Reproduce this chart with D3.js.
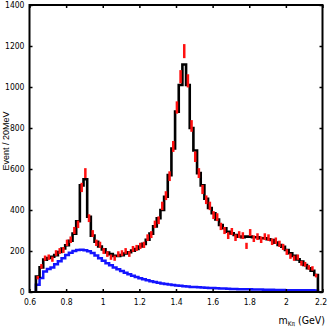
<!DOCTYPE html>
<html><head><meta charset="utf-8">
<script src="https://cdn.jsdelivr.net/npm/d3@7"></script>
<style>body{margin:0;background:#fff} svg{display:block}</style>
</head><body>
<svg id="c" width="327" height="327"></svg>
<script>
// histogram binning (GeV)
const binStart = 0.635, binWidth = 0.02;
// observed events per 20 MeV bin
const dataCounts = [70,125,165,170,160,190,200,205,240,255,300,330,510,580,360,285,240,230,200,185,
  170,165,185,190,200,185,210,215,225,230,265,280,330,350,420,470,565,710,900,1050,
  1175,1030,810,660,580,500,450,420,375,365,320,300,275,295,265,280,275,225,290,260,
  270,255,270,265,245,250,235,220,195,175,165,170,140,135,120,115,80];
// total fit
const fitCounts = [75,120,158,166,172,180,195,212,228,250,285,345,520,550,367,275,245,222,208,193,
  185,176,176,180,188,194,202,210,222,235,255,285,320,360,400,465,570,700,880,1010,
  1110,1010,800,690,580,520,455,410,384,354,327,311,294,286,278,270,267,270,270,267,
  267,262,262,257,254,241,229,221,205,189,176,159,148,132,116,104,83];
// background component
const bkgCounts = [35,68,100,112,120,135,150,165,180,192,200,205,206,204,199,190,178,165,152,140,
  130,120,111,102,94,86,79,73,67,62,57,53,49,45,42,39,36,34,32,30,
  28,27,25,24,23,22,21,20,19,18,17,17,16,15,15,14,14,13,13,12,
  12,12,11,11,11,10,10,10,9,9,9,9,8,8,8,8,7];
const xTicks = [0.6,0.8,1,1.2,1.4,1.6,1.8,2,2.2];
const xTickLabels = ["0.6","0.8","1","1.2","1.4","1.6","1.8","2","2.2"];
const yTicks = [0,200,400,600,800,1000,1200,1400];
const yTickLabels = ["0","200","400","600","800","1000","1200","1400"];

const svg = d3.select("#c");
const x = d3.scaleLinear().domain([0.6, 2.2]).range([29.5, 322.5]);
const y = d3.scaleLinear().domain([0, 1400]).range([292, 5]);
const tickFont = "'Liberation Sans Narrow','Arial Narrow','DejaVu Sans Condensed',sans-serif";

function stepPoints(vals){
  const pts = [[binStart, 0]];
  vals.forEach((v,i)=>{
    const lo = binStart + i*binWidth;
    pts.push([lo, v]); pts.push([lo+binWidth, v]);
  });
  pts.push([binStart + vals.length*binWidth, 0]);
  return pts;
}
const line = d3.line().x(d=>x(d[0])).y(d=>y(d[1]));

svg.append("path").attr("d", line(stepPoints(bkgCounts)))
  .attr("fill","none").attr("stroke","#1414ff").attr("stroke-width",2.5);
svg.append("path").attr("d", line(stepPoints(fitCounts)))
  .attr("fill","none").attr("stroke","#000").attr("stroke-width",2.6);

// data error bars
svg.append("g").selectAll("rect").data(dataCounts).join("rect")
  .attr("x", (d,i)=>x(binStart+(i+0.5)*binWidth)-1.25)
  .attr("width", 2.5)
  .attr("y", d=>y(d+Math.sqrt(d)))
  .attr("height", d=>y(d-Math.sqrt(d))-y(d+Math.sqrt(d)))
  .attr("fill", "#ff1010");

// axes
const gB = svg.append("g").attr("transform",`translate(0,${y(0)})`)
  .call(d3.axisBottom(x).tickValues(xTicks).tickFormat((d,i)=>xTickLabels[i]).tickSize(-3).tickPadding(7));
gB.selectAll(".tick text").filter((d,i)=>i===xTicks.length-1).attr("dx",-2);
const gT = svg.append("g").attr("transform",`translate(0,${y(1400)})`)
  .call(d3.axisTop(x).tickValues(xTicks).tickFormat("").tickSize(-3));
const gL = svg.append("g").attr("transform",`translate(${x(0.6)},0)`)
  .call(d3.axisLeft(y).tickValues(yTicks).tickFormat((d,i)=>yTickLabels[i]).tickSize(-3).tickPadding(5));
const gR = svg.append("g").attr("transform",`translate(${x(2.2)},0)`)
  .call(d3.axisRight(y).tickValues(yTicks).tickFormat("").tickSize(-3));
[gB,gT,gL,gR].forEach(g=>{
  g.select(".domain").remove();
  g.selectAll(".tick line").attr("stroke","#000").attr("stroke-width",1.5);
  g.selectAll("text").attr("font-family",tickFont).attr("font-size",8.5).attr("fill","#000");
});

// frame
svg.append("rect").attr("x",x(0.6)).attr("y",y(1400))
  .attr("width",x(2.2)-x(0.6)).attr("height",y(0)-y(1400))
  .attr("fill","none").attr("stroke","#000").attr("stroke-width",2);

// axis titles
svg.append("text").attr("transform",`translate(9,141) rotate(-90)`)
  .attr("text-anchor","middle").attr("font-family","'Liberation Sans',Arial,sans-serif")
  .attr("font-size",9).text("Event / 20MeV");
const xt = svg.append("text").attr("x",325).attr("y",324).attr("text-anchor","end")
  .attr("font-family",tickFont).attr("font-size",10.5);
xt.append("tspan").text("m");
xt.append("tspan").attr("font-size",6.5).attr("dy",2).text("Kπ");
xt.append("tspan").attr("dy",-2).text(" (GeV)");
</script>
</body></html>
